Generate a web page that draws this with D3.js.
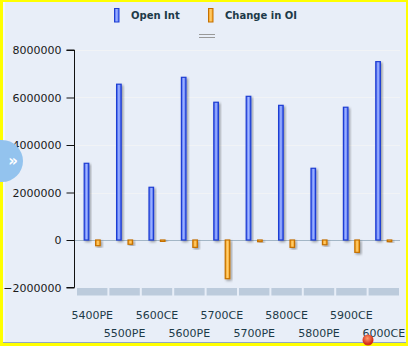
<!DOCTYPE html>
<html><head><meta charset="utf-8">
<script src="https://cdn.jsdelivr.net/npm/d3@7"></script>
<style>
html,body{margin:0;padding:0;background:#ffff00;}
svg{display:block;}
</style></head>
<body>
<svg id="chart" width="408" height="346"></svg>
<script>
const categories = ["5400PE","5500PE","5600CE","5600PE","5700CE","5700PE","5800CE","5800PE","5900CE","6000CE"];
const openInt   = [3230000,6560000,2220000,6850000,5800000,6050000,5670000,3020000,5590000,7510000];
const changeOI  = [-240000,-180000,-60000,-310000,-1630000,-70000,-310000,-200000,-520000,-70000];
const yTicks    = [-2000000,0,2000000,4000000,6000000,8000000];
const seriesNames = ["Open Int","Change in OI"];

const svg = d3.select("#chart");
const defs = svg.append("defs");

function grad(id, c1, c2){
  const g = defs.append("linearGradient").attr("id", id).attr("x1","0%").attr("x2","100%");
  g.append("stop").attr("offset","0%").attr("stop-color",c1);
  g.append("stop").attr("offset","50%").attr("stop-color",c2);
  g.append("stop").attr("offset","100%").attr("stop-color",c1);
}
grad("gBlue", "#3f60f2", "#a2b6ff");
grad("gOrange", "#f59a12", "#ffcf70");
const rg = defs.append("radialGradient").attr("id","gRed").attr("cx","45%").attr("cy","35%");
rg.append("stop").attr("offset","0%").attr("stop-color","#ff9a6a");
rg.append("stop").attr("offset","100%").attr("stop-color","#d7301a");
const f = defs.append("filter").attr("id","shadow").attr("x","-50%").attr("y","-20%").attr("width","220%").attr("height","150%");
f.append("feDropShadow").attr("dx",1.5).attr("dy",1.5).attr("stdDeviation",0.9).attr("flood-color","#000").attr("flood-opacity",0.35);

// background panel inside yellow border
svg.append("rect").attr("x",3).attr("y",2).attr("width",403).attr("height",341).attr("fill","#e8eef8");
svg.append("rect").attr("x",3).attr("y",2).attr("width",2).attr("height",341).attr("fill","#f3f6fb");
svg.append("line").attr("x1",3).attr("x2",406).attr("y1",342.5).attr("y2",342.5).attr("stroke","#8fa6c2").attr("stroke-width",1);

const y = d3.scaleLinear().domain([-2000000, 8000000]).range([287.5, 50]);
const x = d3.scaleBand().domain(categories).range([76, 400]).padding(0);
const sub = d3.scaleBand().domain(seriesNames).range([-8.5, 7.5]).paddingInner(0.6);

// gridlines
svg.append("g").selectAll("line").data(yTicks.filter(v => v > 0)).join("line")
  .attr("x1",74).attr("x2",400).attr("y1",d=>Math.round(y(d))+0.5).attr("y2",d=>Math.round(y(d))+0.5)
  .attr("stroke","#f1f3f6").attr("stroke-width",1);

// category band strip
svg.append("g").selectAll("rect").data(categories).join("rect")
  .attr("x", d => x(d) + 1).attr("width", x.bandwidth() - 2)
  .attr("y", 288).attr("height", 7.5).attr("fill", "#bccbdc");

// zero line
svg.append("line").attr("x1",74).attr("x2",400).attr("y1",Math.round(y(0))+0.5).attr("y2",Math.round(y(0))+0.5)
  .attr("stroke","#a3b6c6").attr("stroke-width",1);

// axis
const axis = d3.axisLeft(y).tickValues(yTicks).tickSize(8).tickPadding(5).tickFormat(d3.format("d"));
const ag = svg.append("g").attr("transform","translate(74.5,0)").call(axis);
ag.select(".domain").attr("stroke","#111").attr("d", `M-8,${y(8000000)}H0V${y(-2000000)}H-8`);
ag.selectAll(".tick line").attr("stroke","#111");
ag.selectAll("text").attr("font-family","DejaVu Sans, Verdana, sans-serif").attr("font-size","11px").attr("fill","#1a1a1a");

// bars
const data = categories.map((c,i)=>({c, vals:[{s:seriesNames[0], v:openInt[i]},{s:seriesNames[1], v:changeOI[i]}]}));
const fills = {"Open Int":"url(#gBlue)","Change in OI":"url(#gOrange)"};
const strokes = {"Open Int":"#1f3ed2","Change in OI":"#c47000"};
const groups = svg.append("g").selectAll("g").data(data).join("g")
  .attr("transform", d => `translate(${x(d.c) + x.bandwidth()/2},0)`);
groups.selectAll("rect").data(d=>d.vals).join("rect")
  .attr("x", d => sub(d.s) + 0.5)
  .attr("width", sub.bandwidth())
  .attr("y", d => Math.min(y(d.v), y(0)))
  .attr("height", d => Math.max(1.5, Math.abs(y(d.v) - y(0))))
  .attr("fill", d => fills[d.s]).attr("stroke", d => strokes[d.s]).attr("stroke-width",1.2)
  .attr("filter","url(#shadow)");

// x labels, staggered
svg.append("g").selectAll("text").data(categories).join("text")
  .attr("x", d => x(d) + x.bandwidth()/2)
  .attr("y", (d,i) => i % 2 === 0 ? 319 : 337)
  .attr("text-anchor","middle")
  .attr("font-family","DejaVu Sans, Verdana, sans-serif").attr("font-size","11px").attr("fill","#1d3a48")
  .text(d => d);

// legend
const leg = svg.append("g");
const legX = [114, 208];
seriesNames.forEach((s,i)=>{
  leg.append("rect").attr("x",legX[i]+0.5).attr("y",8.5).attr("width",4.5).attr("height",13.5)
    .attr("fill",fills[s]).attr("stroke",strokes[s]);
  leg.append("text").attr("x",legX[i]+17).attr("y",19)
    .attr("font-family","DejaVu Sans, Verdana, sans-serif").attr("font-size","10px").attr("font-weight","bold")
    .attr("fill","#1d3a48").text(s);
});
// drag handle
[34.5,37.5].forEach(yy => svg.append("line").attr("x1",199).attr("x2",215).attr("y1",yy).attr("y2",yy).attr("stroke","#999").attr("stroke-width",1));

// side button
svg.append("circle").attr("cx",2).attr("cy",161).attr("r",21).attr("fill","#93c3ee");
svg.append("text").attr("x",13).attr("y",166).attr("text-anchor","middle").attr("font-family","DejaVu Sans, sans-serif")
  .attr("font-size","15px").attr("font-weight","bold").attr("fill","#fff").text("»");

// yellow border bottom
svg.append("rect").attr("x",0).attr("y",343.5).attr("width",408).attr("height",3).attr("fill","#ffff00");

// red dot bottom
svg.append("circle").attr("cx",368).attr("cy",340).attr("r",5.5).attr("fill","url(#gRed)");
</script>
</body></html>
